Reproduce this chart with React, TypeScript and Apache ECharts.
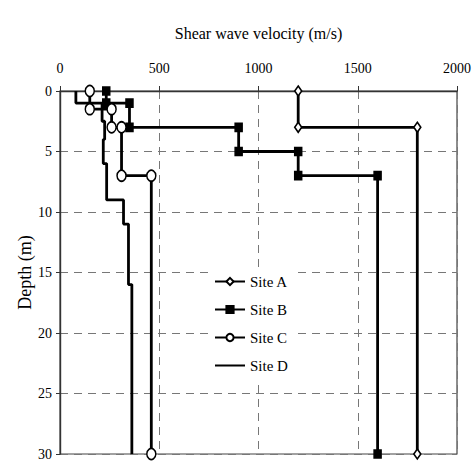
import React, { useEffect, useRef } from "react";
import * as echarts from "echarts";

const siteNames = ["Site A", "Site B", "Site C", "Site D"];
const xTickValues = [0, 500, 1000, 1500, 2000];
const yTickValues = [0, 5, 10, 15, 20, 25, 30];

// [velocity (m/s), depth (m)]
const siteA: number[][] = [[1200, 0], [1200, 3], [1800, 3], [1800, 30]];
const siteB: number[][] = [
  [233, 0], [233, 1], [350, 1], [350, 3], [900, 3], [900, 5],
  [1200, 5], [1200, 7], [1600, 7], [1600, 30],
];
const siteC: number[][] = [
  [150, 0], [150, 1.5], [260, 1.5], [260, 3], [310, 3], [310, 7],
  [460, 7], [460, 30],
];
const siteD: number[][] = [
  [80, 0], [80, 1], [212, 1], [212, 2.5], [225, 2.5], [225, 4],
  [218, 4], [218, 6], [235, 6], [235, 9], [320, 9], [320, 11],
  [345, 11], [345, 16], [362, 16], [362, 30],
];

const FONT = "Liberation Serif";

export default function App() {
  const ref = useRef<HTMLDivElement>(null);
  useEffect(() => {
    if (!ref.current) return;
    const chart = echarts.init(ref.current, undefined, { renderer: "svg" });
    const lineStyle = { color: "#000", width: 2.8 };
    const mk = (name: string, data: number[][], symbol: string, size: any) => ({
      name,
      type: "line",
      data,
      symbol,
      symbolSize: size,
      showSymbol: symbol !== "none",
      lineStyle,
      itemStyle: { color: symbol === "rect" ? "#000" : "#fff", borderColor: "#000", borderWidth: 1.6 },
      z: 3,
    });
    chart.setOption({
      animation: false,
      backgroundColor: "#fff",
      textStyle: { fontFamily: FONT },
      grid: {
        left: 60, right: 14, top: 91, bottom: 20,
        show: true, borderColor: "#444", borderWidth: 1.2, backgroundColor: "transparent",
      },
      legend: {
        data: [
          siteNames[0],
          siteNames[1],
          siteNames[2],
          { name: siteNames[3], itemStyle: { opacity: 0 } },
        ],
        orient: "vertical",
        left: 208,
        top: 268,
        itemWidth: 30,
        itemHeight: 9,
        itemGap: 13,
        padding: [6, 8, 6, 6],
        backgroundColor: "#fff",
        textStyle: { fontFamily: FONT, fontSize: 15, color: "#000" },
      },
      xAxis: {
        type: "value",
        position: "top",
        min: xTickValues[0],
        max: xTickValues[xTickValues.length - 1],
        interval: 500,
        name: "Shear wave velocity (m/s)",
        nameLocation: "middle",
        nameGap: 50,
        nameMoveOverlap: false,
        nameTextStyle: { fontFamily: FONT, fontSize: 16, color: "#000" },
        axisLine: { show: true, lineStyle: { color: "#333", width: 1.4 } },
        axisTick: { show: true, inside: false, length: 5, lineStyle: { color: "#333" } },
        axisLabel: { margin: 16, fontFamily: FONT, fontSize: 14, color: "#000", formatter: (v: number) => String(v) },
        splitLine: { show: true, lineStyle: { color: "#777", type: [8, 6], width: 1 } },
      },
      yAxis: {
        type: "value",
        inverse: true,
        min: yTickValues[0],
        max: yTickValues[yTickValues.length - 1],
        interval: 5,
        name: "Depth (m)",
        nameLocation: "middle",
        nameGap: 26,
        nameMoveOverlap: false,
        nameRotate: 90,
        nameTextStyle: { fontFamily: FONT, fontSize: 18, color: "#000" },
        axisLine: { show: true, lineStyle: { color: "#333", width: 1.4 } },
        axisTick: { show: true, length: 4, lineStyle: { color: "#333" } },
        axisLabel: { margin: 8, fontFamily: FONT, fontSize: 14, color: "#000", formatter: (v: number) => String(v) },
        splitLine: { show: true, lineStyle: { color: "#777", type: [8, 6], width: 1 } },
      },
      series: [
        mk(siteNames[0], siteA, "diamond", [7, 10]),
        mk(siteNames[1], siteB, "rect", [7, 8]),
        mk(siteNames[2], siteC, "circle", [9, 11]),
        mk(siteNames[3], siteD, "none", 0),
      ],
    });
    return () => chart.dispose();
  }, []);
  return <div ref={ref} style={{ width: 474, height: 474, position: "absolute", left: 0, top: 0 }} />;
}
